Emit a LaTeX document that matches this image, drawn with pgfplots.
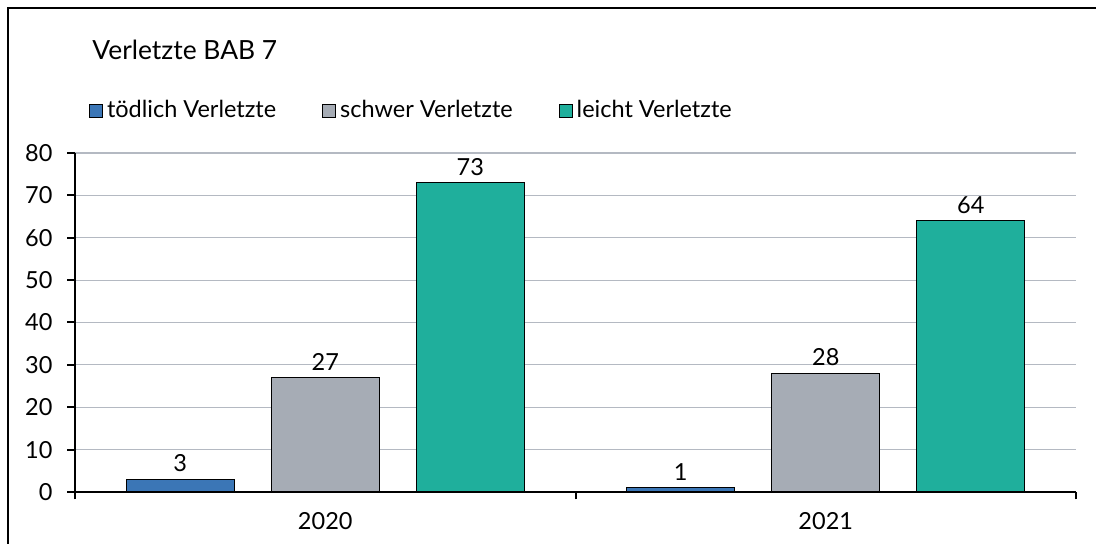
\documentclass[border=0pt]{standalone}
\usepackage{fontspec}
\setmainfont{Lato}
\usepackage{pgfplots}
\pgfplotsset{compat=1.18}
\definecolor{cblue}{HTML}{3B76B6}
\definecolor{cgray}{HTML}{A6ACB5}
\definecolor{cteal}{HTML}{1FAF9C}
\definecolor{cgrid}{HTML}{B4B9C2}
\newcommand{\lbl}{\fontsize{11.75}{14}\selectfont}
\begin{document}
\begin{tikzpicture}[x=0.5pt,y=0.5pt]
\begin{axis}[
  at={(37.5pt,26pt)}, anchor=south west,
  scale only axis, width=500.5pt, height=169.5pt,
  xmin=-0.5, xmax=1.5, ymin=0, ymax=80,
  ytick={0,10,...,80},
  axis x line*=bottom, axis y line*=left,
  axis line style={line width=1pt, black},
  every tick/.style={line width=1pt, black},
  tick align=outside, major tick length=3.75pt,
  ymajorgrids, grid style={cgrid, line width=0.6pt},
  xtick={-0.5,0.5,1.5}, xticklabels={},
  extra x ticks={0,1}, extra x tick labels={2020,2021},
  extra x tick style={major tick length=0pt, tick label style={yshift=-6.5pt}},
  /pgf/number format/assume math mode=true,
  tick label style={font=\lbl},
  y tick label style={xshift=-4pt},
  ybar, bar width=54pt,
  nodes near coords,
  every node near coord/.append style={font=\lbl, black},
  legend style={at={(axis description cs:0.014,1.168)}, anchor=north west, draw=none, fill=none,
    inner sep=0pt, outer sep=0pt, font=\lbl,
    /tikz/every even column/.append style={column sep=21pt}},
  legend columns=-1,
  legend image code/.code={\draw[#1,draw=black,line width=0.5pt] (0pt,-3.5pt) rectangle (6.5pt,3pt);},
]
\addplot[fill=cblue, draw=black, line width=0.6pt, bar shift=-72.5pt] coordinates {(0,3) (1,1)};
\addplot[fill=cgray, draw=black, line width=0.6pt, bar shift=0pt] coordinates {(0,27) (1,28)};
\addplot[fill=cteal, draw=black, line width=0.6pt, bar shift=72.5pt] coordinates {(0,73) (1,64)};
\legend{tödlich Verletzte, schwer Verletzte, leicht Verletzte}
\end{axis}
\node[anchor=base west, inner sep=0pt, font=\fontsize{13.2}{16}\selectfont] at (92,484) {Verletzte BAB 7};
\draw[line width=1pt] (8,-10) -- (8,536) -- (1110,536);
\pgfresetboundingbox
\useasboundingbox (0,0) rectangle (1096,544);
\end{tikzpicture}
\end{document}
